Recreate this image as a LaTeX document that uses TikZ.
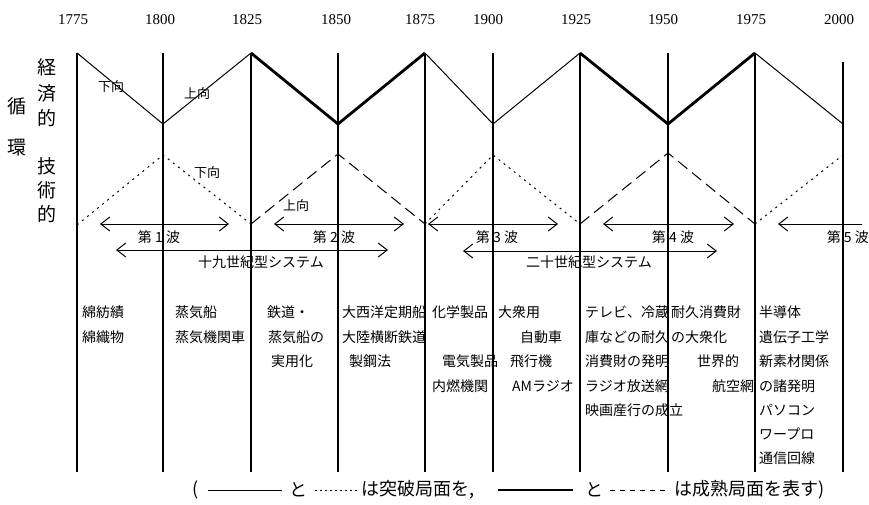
\documentclass[tikz,border=0pt]{standalone}
\usepackage{fontspec}
\setmainfont{Liberation Serif}
\newfontfamily\cjk{Noto Sans CJK JP}
\usetikzlibrary{arrows.meta}
\begin{document}
\begin{tikzpicture}[x=1pt,y=-1pt,
  yearlab/.style={font=\fontsize{15}{15}\selectfont, inner sep=0},
  sidelab/.style={font=\cjk\fontsize{19}{19}\selectfont, inner sep=0},
  coltext/.style={font=\cjk\fontsize{14}{14}\selectfont, inner sep=0, anchor=west},
  dirlab/.style={font=\cjk\fontsize{13}{13}\selectfont, inner sep=0},
  wavelab/.style={font=\cjk\fontsize{14}{14}\selectfont, inner sep=0},
  leglab/.style={font=\cjk\fontsize{18}{18}\selectfont, inner sep=0, anchor=west},
  yearline/.style={line width=1.2pt},
  thinwave/.style={line width=1pt},
  thickwave/.style={line width=2.8pt},
  breakline/.style={line width=1pt, dash pattern=on 2pt off 4.5pt},
  matureline/.style={line width=1pt, dash pattern=on 12pt off 6pt},
  dblarrow/.style={line width=1pt, {Straight Barb[length=9pt,width=14pt]}-{Straight Barb[length=9pt,width=14pt]}},
  leftarrow/.style={line width=1pt, {Straight Barb[length=9pt,width=14pt]}-}
]
\useasboundingbox (0,0) rectangle (869,505);

% year labels
\foreach \yr/\lx in {1775/73,1800/160,1825/247,1850/336,1875/420,1900/488,1925/576,1950/663,1975/751,2000/839}
  \node[yearlab] (yl\yr) at (\lx,20) {\yr};

% vertical year lines
\foreach \yr/\x in {1775/77,1800/163,1825/251,1850/338,1875/425,1900/493,1925/580,1950/668,1975/755}{
  \coordinate (vt\yr) at (\x,53);
  \coordinate (vb\yr) at (\x,472);
  \draw[yearline] (vt\yr) -- (vb\yr);
}
\coordinate (vt2000) at (843,62);
\coordinate (vb2000) at (843,472);
\draw[yearline] (vt2000) -- (vb2000);

% economic wave
\foreach \yr/\x/\y in {1775/77/53,1800/163/124,1825/251/53,1850/338/124,1875/425/53,1900/493/124,1925/580/53,1950/668/124,1975/755/53,2000/843/124}
  \coordinate (e\yr) at (\x,\y);
\draw[thinwave] (e1775) -- (e1800) -- (e1825);
\draw[thickwave, line join=miter] (e1825) -- (e1850) -- (e1875);
\draw[thinwave] (e1875) -- (e1900) -- (e1925);
\draw[thickwave, line join=miter] (e1925) -- (e1950) -- (e1975);
\draw[thinwave] (e1975) -- (e2000);

% technological wave
\foreach \yr/\x/\y in {1775/77/225,1800/163/155,1825/251/224,1850/338/154,1875/425/224,1900/493/155,1925/580/224,1950/668/153,1975/755/224,2000/843/155}
  \coordinate (t\yr) at (\x,\y);
\draw[breakline] (t1775) -- (t1800) -- (t1825);
\draw[matureline] (t1825) -- (t1850) -- (t1875);
\draw[breakline] (t1875) -- (t1900) -- (t1925);
\draw[matureline] (t1925) -- (t1950) -- (t1975);
\draw[breakline] (t1975) -- (t2000);

% direction labels
\node[dirlab] (d1) at (111,87) {下向};
\node[dirlab] (d2) at (197,94) {上向};
\node[dirlab] (d3) at (207,173) {下向};
\node[dirlab] (d4) at (296,206) {上向};

% side labels
\node[sidelab] (jun) at (17,106) {循};
\node[sidelab] (kan) at (17,148) {環};
\node[sidelab] (k1) at (47,67) {経};
\node[sidelab] (k2) at (47,93) {済};
\node[sidelab] (k3) at (47,118) {的};
\node[sidelab] (g1) at (47,166) {技};
\node[sidelab] (g2) at (47,190) {術};
\node[sidelab] (g3) at (47,214) {的};

% wave arrows
\coordinate (w1a) at (100,224); \coordinate (w1b) at (229,224);
\coordinate (w2a) at (274,224); \coordinate (w2b) at (404,224);
\coordinate (w3a) at (428,224); \coordinate (w3b) at (558,224);
\coordinate (w4a) at (603,224); \coordinate (w4b) at (734,224);
\coordinate (w5a) at (778,224); \coordinate (w5b) at (862,224);
\draw[dblarrow] (w1a) -- (w1b);
\draw[dblarrow] (w2a) -- (w2b);
\draw[dblarrow] (w3a) -- (w3b);
\draw[dblarrow] (w4a) -- (w4b);
\draw[leftarrow] (w5a) -- (w5b);
\node[wavelab] (wl1) at (159,237) {第 1 波};
\node[wavelab] (wl2) at (334,237) {第 2 波};
\node[wavelab] (wl3) at (497,237) {第 3 波};
\node[wavelab] (wl4) at (673,237) {第 4 波};
\node[wavelab, anchor=east] (wl5) at (869,237) {第 5 波};

% system arrows
\coordinate (s1a) at (116,250); \coordinate (s1b) at (388,250);
\coordinate (s2a) at (463,251); \coordinate (s2b) at (717,251);
\draw[dblarrow] (s1a) -- (s1b);
\draw[dblarrow] (s2a) -- (s2b);
\node[wavelab] (sl1) at (261,262) {十九世紀型システム};
\node[wavelab] (sl2) at (589,262) {二十世紀型システム};

% column texts
\node[coltext] (c1a) at (82,312) {綿紡績};
\node[coltext] (c1b) at (82,337) {綿織物};

\node[coltext] (c2a) at (175,312) {蒸気船};
\node[coltext] (c2b) at (175,337) {蒸気機関車};

\node[coltext] (c3a) at (267,312) {鉄道・};
\node[coltext] (c3b) at (268,337) {蒸気船の};
\node[coltext] (c3c) at (271,361) {実用化};

\node[coltext] (c4a) at (342,312) {大西洋定期船};
\node[coltext] (c4b) at (342,337) {大陸横断鉄道};
\node[coltext] (c4c) at (349,361) {製鋼法};

\node[coltext] (c5a) at (432,312) {化学製品};
\node[coltext] (c5b) at (442,361) {電気製品};
\node[coltext] (c5c) at (432,386) {内燃機関};

\node[coltext] (c6a) at (498,312) {大衆用};
\node[coltext] (c6b) at (520,337) {自動車};
\node[coltext] (c6c) at (510,361) {飛行機};
\node[coltext] (c6d) at (512,386) {AMラジオ};

\node[coltext] (c7a) at (585,312) {テレビ、冷蔵};
\node[coltext] (c7b) at (585,337) {庫などの耐久};
\node[coltext] (c7c) at (585,361) {消費財の発明};
\node[coltext] (c7d) at (585,386) {ラジオ放送網};
\node[coltext] (c7e) at (585,410) {映画産行の成立};

\node[coltext] (c8a) at (671,312) {耐久消費財};
\node[coltext] (c8b) at (671,337) {の大衆化};
\node[coltext] (c8c) at (697,361) {世界的};
\node[coltext] (c8d) at (712,386) {航空網};

\node[coltext] (c9a) at (759,312) {半導体};
\node[coltext] (c9b) at (759,337) {遺伝子工学};
\node[coltext] (c9c) at (759,361) {新素材関係};
\node[coltext] (c9d) at (759,386) {の諸発明};
\node[coltext] (c9e) at (759,410) {パソコン};
\node[coltext] (c9f) at (759,434) {ワープロ};
\node[coltext] (c9g) at (759,458) {通信回線};

% legend
\node[leglab] (lp) at (192,490) {(};
\coordinate (l1a) at (208,490); \coordinate (l1b) at (282,490);
\draw[line width=1pt] (l1a) -- (l1b);
\node[leglab] (lto1) at (289,490) {と};
\coordinate (l2a) at (315,490); \coordinate (l2b) at (358,490);
\draw[line width=1pt, dash pattern=on 1.6pt off 3.4pt] (l2a) -- (l2b);
\node[leglab] (lt1) at (361,490) {は突破局面を,};
\coordinate (l3a) at (498,490); \coordinate (l3b) at (573,490);
\draw[line width=2.8pt] (l3a) -- (l3b);
\node[leglab] (lto2) at (585,490) {と};
\coordinate (l4a) at (610,490); \coordinate (l4b) at (670,490);
\draw[line width=1pt, dash pattern=on 5pt off 5pt] (l4a) -- (l4b);
\node[leglab] (lt2) at (674,490) {は成熟局面を表す)};
\end{tikzpicture}
\end{document}
